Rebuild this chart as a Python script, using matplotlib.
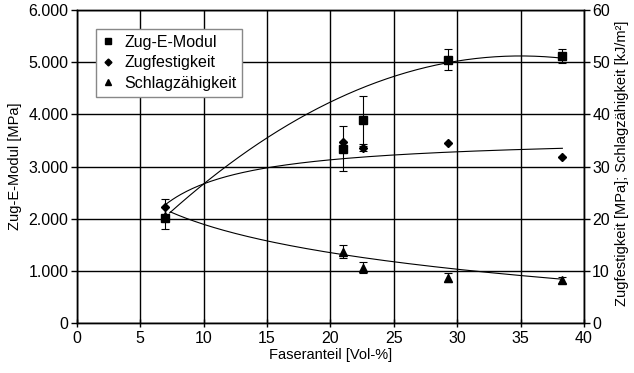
import numpy as np
import matplotlib
matplotlib.use("Agg")
from matplotlib import pyplot as plt
from matplotlib.ticker import FuncFormatter

plt.rcParams['font.family'] = ['Liberation Sans', 'DejaVu Sans']
plt.rcParams['font.size'] = 10

# DATEN
faseranteil = [7.0, 21.0, 22.6, 29.3, 38.3]

e_modul = [2010, 3340, 3900, 5050, 5120]
e_modul_err = [210, 430, 460, 200, 135]

zugfestigkeit = [22.3, 34.75, 33.5, 34.6, 31.8]
zugfestigkeit_err = [1.5, 0.0, 0.5, 0.0, 0.0]

schlagzaehigkeit = [20.6, 13.7, 10.6, 8.7, 8.3]
schlagzaehigkeit_err = [0.0, 1.2, 1.1, 0.9, 0.6]

e_modul_trend = [-3.93, 275.1, 306.0]      # Polynom 2. Grades
e_modul_trend_range = [7.33, 38.3]
zug_trend = [35.91, 92.4]                   # a - b/x
zug_trend_range = [6.94, 38.3]
schlag_trend = [36.98, -7.84]               # a + b*ln(x)
schlag_trend_range = [7.39, 38.3]

fig = plt.figure(figsize=(6.34, 3.73), dpi=100)
ax = fig.add_axes([0.121, 0.134, 0.800, 0.839])
ax2 = ax.twinx()

ax.set_xlim(0, 40)
ax.set_ylim(0, 6000)
ax2.set_ylim(0, 60)
ax.set_xticks(np.arange(0, 41, 5))
ax.set_yticks(np.arange(0, 6001, 1000))
ax2.set_yticks(np.arange(0, 61, 10))
ax.yaxis.set_major_formatter(FuncFormatter(lambda v, p: f"{int(v):,}".replace(",", ".")))

ax.grid(True, color='black', linewidth=1.0)
ax.set_axisbelow(True)
for a in (ax, ax2):
    for s in a.spines.values():
        s.set_linewidth(1.0)
    a.tick_params(direction='out', length=4, width=1.0, colors='black', labelsize=11.5, pad=2)
ax.tick_params(axis='x', direction='inout', length=6, pad=3)

# Zug-E-Modul
ax.errorbar(faseranteil, e_modul, yerr=e_modul_err, fmt='s', color='black',
            markersize=5.5, capsize=3, elinewidth=0.8, capthick=0.8, zorder=3)
x = np.linspace(e_modul_trend_range[0], e_modul_trend_range[1], 200)
ax.plot(x, np.polyval(e_modul_trend, x), color='black', linewidth=0.8)

# Zugfestigkeit
ax2.errorbar(faseranteil, zugfestigkeit, yerr=zugfestigkeit_err, fmt='D', color='black',
             markersize=4, capsize=3, elinewidth=0.8, capthick=0.8, zorder=3)
x = np.linspace(zug_trend_range[0], zug_trend_range[1], 200)
ax2.plot(x, zug_trend[0] - zug_trend[1] / x, color='black', linewidth=0.8)

# Schlagzähigkeit
ax2.errorbar(faseranteil, schlagzaehigkeit, yerr=schlagzaehigkeit_err, fmt='^', color='black',
             markersize=5.5, capsize=3, elinewidth=0.8, capthick=0.8, zorder=3)
x = np.linspace(schlag_trend_range[0], schlag_trend_range[1], 200)
ax2.plot(x, schlag_trend[0] + schlag_trend[1] * np.log(x), color='black', linewidth=0.8)

ax.set_xlabel('Faseranteil [Vol-%]', fontsize=10.5, labelpad=1)
ax.set_ylabel('Zug-E-Modul [MPa]', fontsize=10.5)
ax.yaxis.set_label_coords(-0.107, 0.5)
ax2.set_ylabel('Zugfestigkeit [MPa]; Schlagzähigkeit [kJ/m²]', fontsize=10.5,
               rotation=90, va='top', ha='center')
ax2.yaxis.set_label_coords(1.062, 0.51)

handles = [
    plt.Line2D([], [], marker='s', color='black', linestyle='none', markersize=5),
    plt.Line2D([], [], marker='D', color='black', linestyle='none', markersize=3.5),
    plt.Line2D([], [], marker='^', color='black', linestyle='none', markersize=5),
]
leg = ax2.legend(handles, ['Zug-E-Modul', 'Zugfestigkeit', 'Schlagzähigkeit'],
                 loc='upper left', bbox_to_anchor=(0.039, 0.939), borderaxespad=0,
                 fontsize=11.5, handlelength=0.8, handletextpad=0.6, labelspacing=0.35,
                 fancybox=False, shadow=False, framealpha=1, edgecolor='#888888',
                 borderpad=0.35)
leg.get_frame().set_linewidth(1.0)

plt.savefig('out.png', dpi=100)
